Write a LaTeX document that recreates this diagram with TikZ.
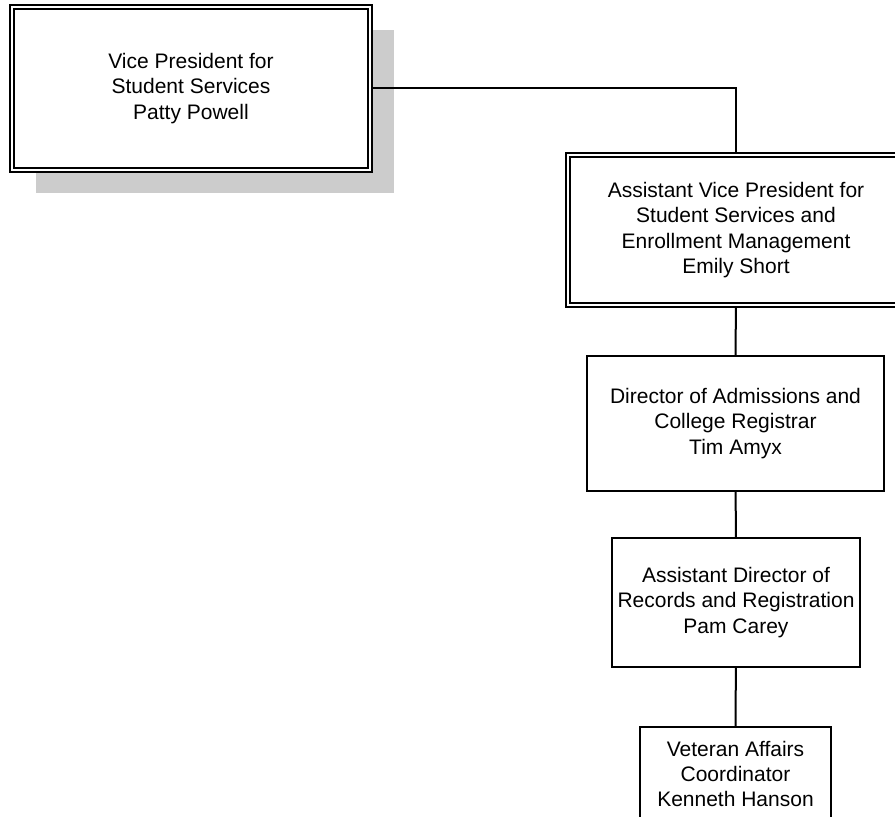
\documentclass[tikz,border=0pt]{standalone}
\usepackage{fontspec}
\setmainfont{Liberation Sans}
\usetikzlibrary{shadows}

\begin{document}
\begin{tikzpicture}[x=0.5pt, y=-0.5pt, line join=miter,
  post/.style={draw, line width=1pt, fill=white, align=center, inner sep=0pt,
    font=\fontsize{10.5}{12.6}\selectfont},
  headpost/.style={post, double=white, double distance=1.2pt, outer sep=1.6pt},
  link/.style={line width=1pt}]
  \useasboundingbox (0,0) rectangle (895,817);
  % the two heads
  \node[headpost, minimum width=179pt, minimum height=81.5pt,
    general shadow={fill=black!20, shadow xshift=11.75pt, shadow yshift=-11.5pt}]
    (vp) at (191,88.5) {Vice President for\\Student Services\\Patty Powell};
  \node[headpost, minimum width=168pt, minimum height=75pt] (avp) at (736,230)
    {Assistant Vice President for\\Student Services and\\Enrollment Management\\Emily Short};
  % the staff below
  \node[post, minimum width=148.5pt, minimum height=67.5pt] (dir) at (735.5,423.5)
    {Director of Admissions and\\College Registrar\\Tim Amyx};
  \node[post, minimum width=124pt, minimum height=64.5pt] (asd) at (736,602.5)
    {Assistant Director of\\Records and Registration\\Pam Carey};
  \node[post, minimum width=95.5pt, minimum height=47pt] (vet) at (735.5,774)
    {Veteran Affairs\\Coordinator\\Kenneth Hanson};
  % lines
  \draw[link] (vp.east) -| (avp.north);
  \foreach \a/\b in {avp/dir,dir/asd,asd/vet} \draw[link] (\a) -- (\b);
\end{tikzpicture}
\end{document}
